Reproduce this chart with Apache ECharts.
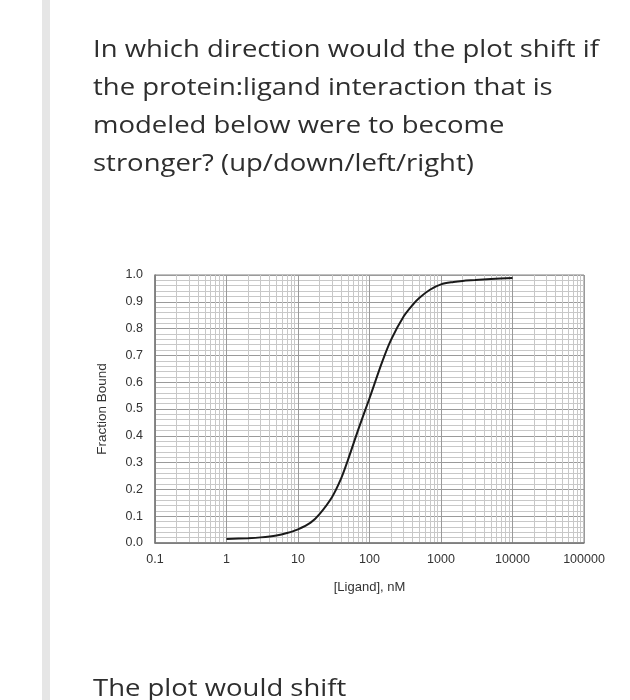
<!DOCTYPE html>
<html>
<head>
<meta charset="utf-8">
<title>Fraction Bound vs Ligand</title>
<script src="https://cdn.jsdelivr.net/npm/echarts@6/dist/echarts.min.js"></script>
<style>
    html, body { margin: 0; padding: 0; background: #fff; }
    body { width: 630px; height: 700px; position: relative; overflow: hidden; }
    #chart { position: absolute; left: 0; top: 0; width: 630px; height: 700px; }
    .bar { position: absolute; left: 42px; top: 0; width: 8px; height: 700px; background: #e6e6e6; }
    .q { position: absolute; left: 93px; font-family: "Open Sans", sans-serif; font-size: 24px;
         line-height: 38px; color: #2e2e2e; pointer-events: none; white-space: nowrap;
         transform: scaleX(1.145); transform-origin: 0 0; }
</style>
</head>
<body>
<div class="bar"></div>
<div id="chart"></div>
<div class="q" style="top:29px;">In which direction would the plot shift if<br>the protein:ligand interaction that is<br>modeled below were to become<br>stronger? (up/down/left/right)</div>
<div class="q" style="top:668px;">The plot would shift</div>
<script>
    // ligand concentration (nM) and fraction bound
    var ligand = [1, 2, 3, 5, 7, 10, 15, 20, 30, 40, 50, 70, 100, 150, 200, 300, 400, 500, 700, 1000, 1500, 2000, 3000, 5000, 10000];
    var fractionBound = [0.015, 0.018, 0.021, 0.028, 0.037, 0.051, 0.076, 0.108, 0.172, 0.240, 0.310, 0.425, 0.540, 0.675, 0.758, 0.845, 0.888, 0.915, 0.945, 0.965, 0.974, 0.978, 0.981, 0.985, 0.989];

    var xTicks = [0.1, 1, 10, 100, 1000, 10000, 100000];
    var yTicks = [0.0, 0.1, 0.2, 0.3, 0.4, 0.5, 0.6, 0.7, 0.8, 0.9, 1.0];

    var points = ligand.map(function (l, i) { return [l, fractionBound[i]]; });

    var myChart = echarts.init(document.getElementById('chart'));

    var option = {
        animation: false,
        grid: {
            left: 155,
            right: 46,
            top: 275,
            bottom: 157,
            show: true,
            borderColor: '#808080',
            borderWidth: 1
        },
        xAxis: {
            type: 'log',
            logBase: 10,
            min: xTicks[0],
            max: xTicks[xTicks.length - 1],
            name: '[Ligand], nM',
            nameLocation: 'middle',
            nameGap: 38,
            nameTextStyle: { fontFamily: 'Liberation Sans', fontSize: 13, color: '#333' },
            axisLine: { show: true, lineStyle: { color: '#777', width: 1.5 } },
            axisTick: { show: false },
            axisLabel: {
                fontFamily: 'Liberation Sans',
                fontSize: 12.5,
                color: '#333',
                margin: 10,
                formatter: function (v) {
                    for (var i = 0; i < xTicks.length; i++) {
                        if (Math.abs(v - xTicks[i]) < xTicks[i] * 1e-6) return String(xTicks[i]);
                    }
                    return '';
                }
            },
            splitLine: { show: true, lineStyle: { color: '#9a9a9a', width: 1 } },
            minorTick: { show: false, splitNumber: 9 },
            minorSplitLine: { show: true, lineStyle: { color: '#c8c8c8', width: 1 } }
        },
        yAxis: {
            type: 'value',
            min: yTicks[0],
            max: yTicks[yTicks.length - 1],
            interval: 0.1,
            name: 'Fraction Bound',
            nameLocation: 'middle',
            nameGap: 46,
            nameTextStyle: { fontFamily: 'Liberation Sans', fontSize: 13.5, color: '#333' },
            axisLine: { show: true, lineStyle: { color: '#777', width: 1.5 } },
            axisTick: { show: false },
            axisLabel: {
                fontFamily: 'Liberation Sans',
                fontSize: 12.5,
                color: '#333',
                margin: 12,
                formatter: function (v) { return v.toFixed(1); }
            },
            splitLine: { show: true, lineStyle: { color: '#9a9a9a', width: 1 } },
            minorTick: { show: false, splitNumber: 5 },
            minorSplitLine: { show: true, lineStyle: { color: '#c8c8c8', width: 1 } }
        },
        series: [
            {
                type: 'line',
                data: points,
                smooth: 0.3,
                showSymbol: false,
                lineStyle: { color: '#1a1a1a', width: 2 },
                z: 5
            }
        ]
    };

    myChart.setOption(option);
</script>
</body>
</html>
